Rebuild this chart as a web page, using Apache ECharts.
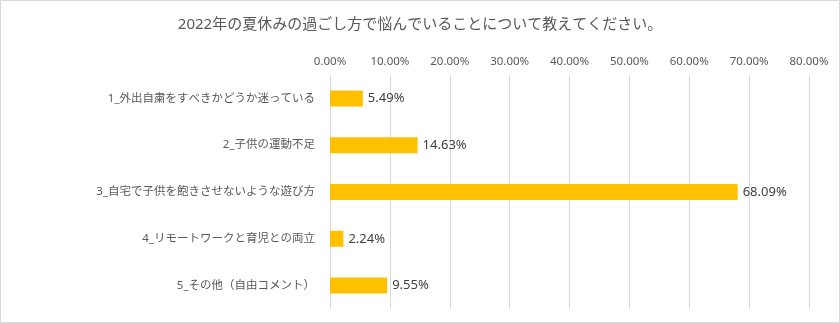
<!DOCTYPE html>
<html>
<head>
<meta charset="utf-8">
<script src="https://cdn.jsdelivr.net/npm/echarts@6/dist/echarts.min.js"></script>
<style>
html,body{margin:0;padding:0;background:#fff;}
#chart{width:840px;height:323px;}
</style>
</head>
<body>
<div id="chart"></div>
<script>
var titleText = '2022年の夏休みの過ごし方で悩んでいることについて教えてください。';
var categories = [
  '1_外出自粛をすべきかどうか迷っている',
  '2_子供の運動不足',
  '3_自宅で子供を飽きさせないような遊び方',
  '4_リモートワークと育児との両立',
  '5_その他（自由コメント）'
];
var values = [5.49, 14.63, 68.09, 2.24, 9.55];
var axisMin = 0, axisMax = 80, axisStep = 10;

var FONT = '"Noto Sans", "Noto Sans CJK JP", sans-serif';
var chart = echarts.init(document.getElementById('chart'), null, {renderer:'canvas'});
chart.setOption({
  animation: false,
  backgroundColor: '#ffffff',
  title: {
    text: titleText,
    left: 'center',
    top: 12,
    textStyle: {fontFamily: FONT, fontSize: 15, fontWeight: 'normal', color: '#595959'}
  },
  graphic: [{
    type: 'rect', silent: true,
    shape: {x: 0.5, y: 0.5, width: 839, height: 322},
    style: {fill: null, stroke: '#d9d9d9', lineWidth: 1}
  }],
  grid: {left: 330, right: 31, top: 75, bottom: 14, containLabel: false},
  xAxis: {
    type: 'value', position: 'top',
    min: axisMin, max: axisMax, interval: axisStep,
    axisLine: {show: false}, axisTick: {show: false},
    splitLine: {show: true, lineStyle: {color: '#d9d9d9', width: 1}},
    axisLabel: {
      margin: 8,
      fontFamily: FONT, fontSize: 11.5, color: '#595959',
      formatter: function(v){ return v.toFixed(2) + '%'; }
    }
  },
  yAxis: {
    type: 'category', data: categories, inverse: true,
    axisLine: {show: true, lineStyle: {color: '#d9d9d9'}},
    axisTick: {show: false},
    axisLabel: {margin: 15, fontFamily: FONT, fontSize: 11.5, color: '#595959'}
  },
  series: [{
    type: 'bar', data: values, barWidth: 16,
    itemStyle: {color: '#FFC000'},
    label: {
      show: true, position: 'right', distance: 5,
      fontFamily: FONT, fontSize: 13, color: '#404040',
      formatter: function(p){ return p.value.toFixed(2) + '%'; }
    }
  }]
});
</script>
</body>
</html>
